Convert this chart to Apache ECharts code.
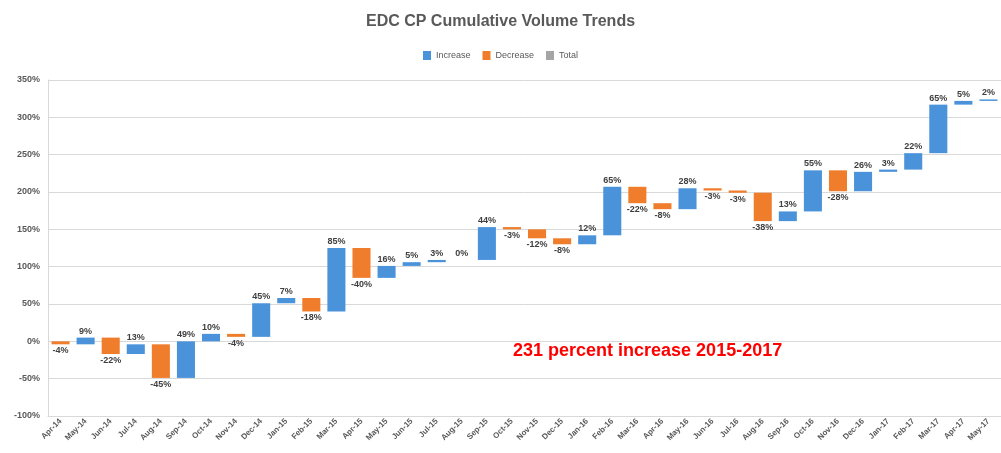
<!DOCTYPE html>
<html>
<head>
<meta charset="utf-8">
<script src="https://cdn.jsdelivr.net/npm/echarts@6/dist/echarts.min.js"></script>
<style>
  html, body { margin: 0; padding: 0; background: #fff; }
  #main { width: 1001px; height: 453px; }
</style>
</head>
<body>
<div id="main"></div>
<script>
// months on the x axis
var months = ['Apr-14', 'May-14', 'Jun-14', 'Jul-14', 'Aug-14', 'Sep-14', 'Oct-14', 'Nov-14', 'Dec-14',
    'Jan-15', 'Feb-15', 'Mar-15', 'Apr-15', 'May-15', 'Jun-15', 'Jul-15', 'Aug-15', 'Sep-15', 'Oct-15',
    'Nov-15', 'Dec-15', 'Jan-16', 'Feb-16', 'Mar-16', 'Apr-16', 'May-16', 'Jun-16', 'Jul-16', 'Aug-16',
    'Sep-16', 'Oct-16', 'Nov-16', 'Dec-16', 'Jan-17', 'Feb-17', 'Mar-17', 'Apr-17', 'May-17'];
// monthly change in %
var changes = [-4, 9, -22, 13, -45, 49, 10, -4, 45,
    7, -18, 85, -40, 16, 5, 3, 0, 44, -3,
    -12, -8, 12, 65, -22, -8, 28, -3, -3, -38,
    13, 55, -28, 26, 3, 22, 65, 5, 2];
var yTicks = {min: -100, max: 350, interval: 50};

// build waterfall pieces from the changes
var base = [], inc = [], dec = [];
var running = 0;
changes.forEach(function (c) {
    var next = running + c;
    base.push(Math.min(running, next));
    inc.push(c >= 0 ? c : 0);
    dec.push(c < 0 ? -c : 0);
    running = next;
});

var chart = echarts.init(document.getElementById('main'));
var fontNarrow = 'Liberation Sans Narrow, Liberation Sans, sans-serif';

function labelFor(positive) {
    return {
        show: true,
        position: positive ? 'top' : 'bottom',
        distance: 2,
        color: '#404040',
        fontSize: 9,
        fontWeight: 'bold',
        fontFamily: fontNarrow,
        formatter: function (p) {
            var c = changes[p.dataIndex];
            if ((c >= 0) !== positive) return '';
            return c + '%';
        }
    };
}

option = {
    animation: false,
    title: {
        text: 'EDC CP Cumulative Volume Trends',
        left: 'center',
        top: 9,
        textStyle: {
            fontSize: 16,
            fontWeight: 'bold',
            color: '#595959',
            fontFamily: fontNarrow
        }
    },
    legend: {
        top: 46,
        left: 'center',
        icon: 'rect',
        itemWidth: 8,
        itemHeight: 9,
        itemGap: 12,
        textStyle: {fontSize: 9, color: '#595959', fontFamily: fontNarrow},
        data: ['Increase', 'Decrease', 'Total']
    },
    grid: {left: 48, right: -6, top: 80, bottom: 37},
    xAxis: {
        type: 'category',
        data: months,
        axisLine: {onZero: false, lineStyle: {color: '#d9d9d9'}},
        axisTick: {show: false},
        axisLabel: {
            interval: 0,
            rotate: 45,
            fontSize: 8,
            fontWeight: 'bold',
            color: '#595959',
            margin: 4,
            fontFamily: fontNarrow
        }
    },
    yAxis: {
        type: 'value',
        min: yTicks.min,
        max: yTicks.max,
        interval: yTicks.interval,
        axisLine: {show: true, lineStyle: {color: '#d9d9d9'}},
        axisTick: {show: false},
        splitLine: {lineStyle: {color: '#d9d9d9'}},
        axisLabel: {
            formatter: '{value}%',
            fontSize: 9,
            fontWeight: 'bold',
            color: '#595959',
            margin: 8,
            fontFamily: fontNarrow
        }
    },
    graphic: [{
        type: 'text',
        left: 513,
        top: 342,
        style: {
            text: '231 percent increase 2015-2017',
            fill: '#ff0000',
            fontSize: 18,
            fontWeight: 'bold',
            fontFamily: 'Liberation Sans, sans-serif'
        }
    }],
    series: [
        {
            name: 'base',
            type: 'bar',
            stack: 'wf',
            stackStrategy: 'all',
            barWidth: '72%',
            itemStyle: {color: 'transparent'},
            emphasis: {disabled: true},
            data: base
        },
        {
            name: 'Increase',
            type: 'bar',
            stack: 'wf',
            stackStrategy: 'all',
            itemStyle: {color: '#4a93db'},
            label: labelFor(true),
            data: inc
        },
        {
            name: 'Decrease',
            type: 'bar',
            stack: 'wf',
            stackStrategy: 'all',
            itemStyle: {color: '#ef7d2c'},
            label: labelFor(false),
            data: dec
        },
        {
            name: 'Total',
            type: 'bar',
            stack: 'wf',
            stackStrategy: 'all',
            itemStyle: {color: '#a5a5a5'},
            data: []
        }
    ]
};
chart.setOption(option);
</script>
</body>
</html>
